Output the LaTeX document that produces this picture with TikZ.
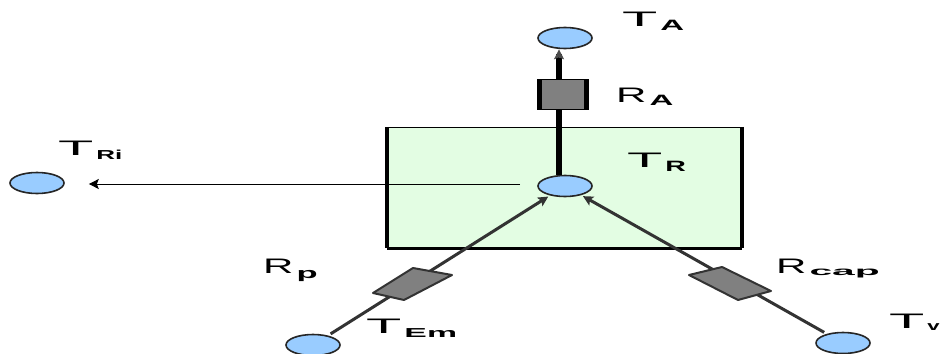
\documentclass[tikz,border=0pt]{standalone}
\usepackage{fontspec}
\setmainfont{Liberation Sans}
\usetikzlibrary{shapes.geometric,arrows.meta}
\definecolor{tempblue}{HTML}{99CCFF}
\definecolor{roomgreen}{HTML}{E3FDE3}
\definecolor{resgrey}{HTML}{808080}
% #1 main letter, #2 its x scale, #3 subscript, #4 sub x scale, #5 sub font size, #6 sub raise
\newcommand{\lblt}[6]{\scalebox{#2}[1]{\fontsize{21}{21}\selectfont #1}\hspace{3pt}\raisebox{#6}{\scalebox{#4}[1]{\fontsize{#5}{#5}\selectfont\bfseries #3}}}
\tikzset{
  tempnode/.style={ellipse,draw=black!85,fill=tempblue,line width=1.6pt,minimum width=54pt,minimum height=21pt,inner sep=0pt},
  lbl/.style={anchor=base west,inner sep=0pt,text=black},
  wire/.style={line width=3pt,draw=black!80},
  thickwire/.style={line width=5.5pt,draw=black},
  thinwire/.style={line width=1pt,draw=black},
  tip/.style={-{Stealth[length=10pt,width=10pt,inset=2pt]}},
  resdiag/.style={draw=black!80,line width=2pt,fill=resgrey,line join=round}
}
\begin{document}
\begin{tikzpicture}[x=1pt,y=-1pt]
\useasboundingbox (0,0) rectangle (944,353);
\clip (0,0) rectangle (944,353);
\node[minimum width=354pt,minimum height=120pt,inner sep=0pt,draw=black,line width=1.2pt,fill=roomgreen] (room) at (564.5,187.5) {};
\draw[line width=4pt] (room.north west) -- (room.south west);
\draw[line width=4pt] (room.north east) -- (room.south east);
\draw[line width=3pt] (room.south west) -- (room.south east);
\node[tempnode] (TA) at (565,38) {};
\node[tempnode] (TR) at (565,186) {};
\node[tempnode] (TRi) at (37,183) {};
\node[tempnode] (TEm) at (313,345) {};
\node[tempnode] (Tv) at (843,343) {};
\node[minimum width=50pt,minimum height=30pt,inner sep=0pt,fill=resgrey,draw=black,line width=1pt] (Ra) at (562.5,94.5) {};
\draw[line width=5pt] ([xshift=2pt]Ra.north west) -- ([xshift=2pt]Ra.south west);
\draw[line width=5pt] ([xshift=-2pt]Ra.north east) -- ([xshift=-2pt]Ra.south east);
\coordinate (Rp) at (412,283);
\coordinate (Rc) at (730,283);
% connectors
\draw[thickwire] ([xshift=-6pt]TR.north) -- ([xshift=-3.5pt]Ra.south);
\draw[thickwire] ([xshift=-3.5pt]Ra.north) -- ([xshift=-6pt,yshift=-5pt]TA.south);
\draw[tip,line width=1pt,draw=black!70] ([xshift=-6pt,yshift=-8pt]TA.south) -- ([xshift=-6pt]TA.south);
\draw[thinwire,tip] ([xshift=-17pt,yshift=2pt]TR.west) -- ([xshift=24pt,yshift=-1pt]TRi.east);
\draw[wire,tip,shorten >=2pt,shorten <=3pt] (TEm) -- (TR);
\draw[wire,tip,shorten >=2pt,shorten <=3pt] (Tv) -- (TR);
% tilted resistors
\draw[resdiag] (Rp) ++(-39,10) -- ++(40,-25) -- ++(39,7) -- ++(-48,25) -- cycle;
\draw[resdiag] (Rc) ++(-41,-8) -- ++(33,-8) -- ++(49,24) -- ++(-33,9) -- cycle;
% labels
\node[lbl] (lTA) at (622,27) {\lblt{T}{2.75}{A}{2.2}{15}{-3.5pt}};
\node[lbl] (lRA) at (616,102) {\lblt{R}{2.0}{A}{2.2}{15}{-3.5pt}};
\node[lbl] (lTR) at (627,167) {\lblt{T}{2.75}{R}{1.9}{15}{-4pt}};
\node[lbl] (lTRi) at (58,155) {\lblt{T}{2.75}{Ri}{2.0}{13}{-4pt}};
\node[lbl] (lRp) at (263,273) {\lblt{R}{2.0}{p}{2.3}{15}{-5pt}};
\node[lbl] (lTEm) at (366,333) {\lblt{T}{2.75}{Em}{2.6}{13}{-4pt}};
\node[lbl] (lRcap) at (776,273) {\lblt{R}{2.0}{cap}{3.4}{12}{-2pt}};
\node[lbl] (lTv) at (889,328) {\lblt{T}{2.75}{v}{1.7}{13}{-2pt}};
\end{tikzpicture}
\end{document}
